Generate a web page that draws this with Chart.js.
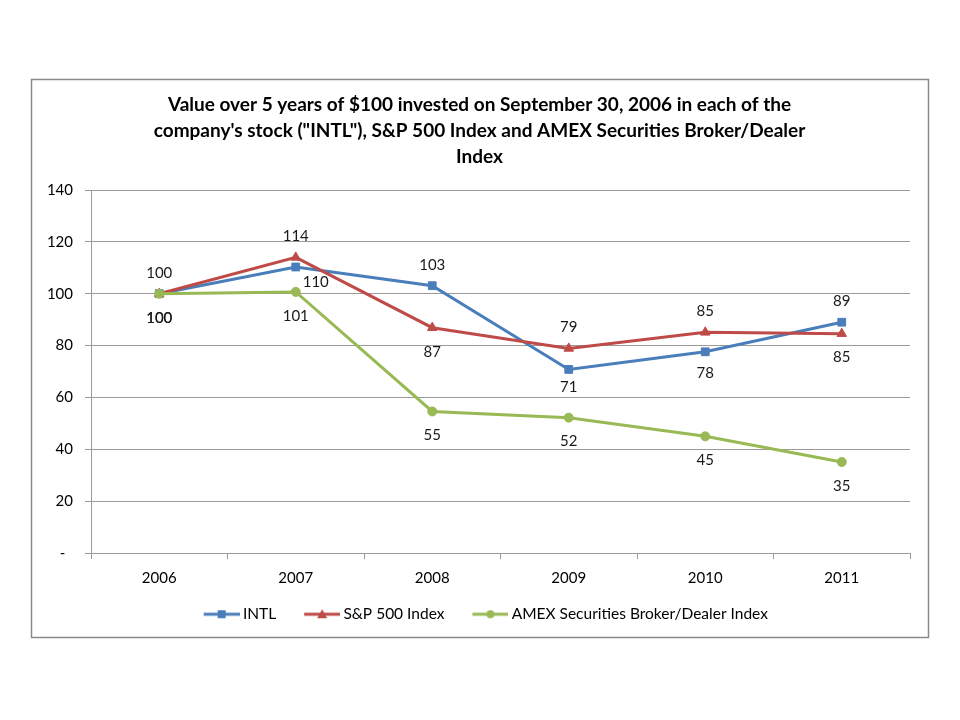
<!DOCTYPE html>
<html>
<head>
<meta charset="utf-8">
<script src="https://cdn.jsdelivr.net/npm/chart.js@4.4.0/dist/chart.umd.min.js"></script>
<style>
html,body{margin:0;padding:0;background:#fff;}
#wrap{position:absolute;left:0;top:0;width:960px;height:720px;}
</style>
</head>
<body>
<div id="wrap"><canvas id="c" width="960" height="720"></canvas></div>
<script>
// ---- data ----
const categories = ['2006', '2007', '2008', '2009', '2010', '2011'];
const intlValues = [100, 110.3, 103.1, 70.8, 77.6, 89.0];
const spValues = [100, 114.0, 86.9, 78.9, 85.1, 84.6];
const amexValues = [100, 100.7, 54.6, 52.2, 45.0, 35.1];
const yTicks = [0, 20, 40, 60, 80, 100, 120, 140];
const seriesNames = ['INTL', 'S&P 500 Index', 'AMEX Securities Broker/Dealer Index'];
const titleLines = [
  'Value over 5 years of $100 invested on September 30, 2006 in each of the',
  'company\'s stock ("INTL"), S&P 500 Index and AMEX Securities Broker/Dealer',
  'Index'
];

// ---- styling ----
const FONT = 'Lato, "Open Sans", sans-serif';
const colors = ['#4A7EBB', '#BE4B48', '#98B954'];
const pointStyles = ['rect', 'triangle', 'circle'];
const pointRadii = [5.5, 5.5, 4.5];
// label placement offsets (dx, dy) relative to each point
const A = {dx: 0, dy: -21}, B = {dx: 0, dy: 24};
const labelOffsets = [
  [B, {dx: 20, dy: 15}, A, {dx: 0, dy: 18}, {dx: 0, dy: 21}, A],
  [A, A, B, A, A, B],
  [B, B, B, B, B, B]
];

// legend icon: line with marker, drawn with empty space on its left
function legendIcon(i) {
  const c = document.createElement('canvas');
  c.width = 53; c.height = 14;
  const x = c.getContext('2d');
  const x0 = 17;
  x.strokeStyle = colors[i]; x.fillStyle = colors[i]; x.lineWidth = 3;
  x.beginPath(); x.moveTo(x0, 7); x.lineTo(x0 + 36, 7); x.stroke();
  x.beginPath();
  if (i === 0) { x.fillRect(x0 + 14, 3, 8, 8); }
  else if (i === 1) { x.moveTo(x0 + 18, 2); x.lineTo(x0 + 23, 11); x.lineTo(x0 + 13, 11); x.closePath(); x.fill(); }
  else { x.arc(x0 + 18, 7, 4, 0, Math.PI * 2); x.fill(); }
  return c;
}
const legendIcons = [0, 1, 2].map(legendIcon);

const frame = {
  id: 'frame',
  beforeDraw(chart) {
    const ctx = chart.ctx;
    ctx.save();
    ctx.fillStyle = '#fff';
    ctx.fillRect(0, 0, chart.width, chart.height);
    ctx.strokeStyle = '#8a8a8a';
    ctx.lineWidth = 1.5;
    ctx.strokeRect(31.5, 79.5, 897, 558);
    ctx.restore();
  }
};

const valueLabels = {
  id: 'valueLabels',
  afterDatasetsDraw(chart) {
    const ctx = chart.ctx;
    ctx.save();
    ctx.font = '15px ' + FONT;
    ctx.fillStyle = '#1a1a1a';
    ctx.textAlign = 'center';
    ctx.textBaseline = 'middle';
    chart.data.datasets.forEach((ds, di) => {
      const meta = chart.getDatasetMeta(di);
      meta.data.forEach((pt, i) => {
        const off = labelOffsets[di][i];
        ctx.fillText(String(Math.round(ds.data[i])), pt.x + off.dx, pt.y + off.dy);
      });
    });
    ctx.restore();
  }
};

const seriesData = [intlValues, spValues, amexValues];
const datasets = seriesData.map((vals, i) => ({
  label: seriesNames[i],
  data: vals,
  borderColor: colors[i],
  backgroundColor: colors[i],
  borderWidth: 3,
  pointStyle: pointStyles[i],
  pointRadius: pointRadii[i],
  pointBorderWidth: 1,
  pointBackgroundColor: colors[i],
  pointBorderColor: colors[i],
  tension: 0,
  order: 3 - i
}));

Chart.defaults.font.family = FONT;
new Chart(document.getElementById('c'), {
  type: 'line',
  data: { labels: categories, datasets },
  options: {
    responsive: false,
    animation: false,
    devicePixelRatio: 1,
    layout: { padding: { left: 28, right: 29, top: 92, bottom: 88 } },
    plugins: {
      tooltip: { enabled: false },
      title: {
        display: true,
        text: titleLines,
        color: '#000',
        font: { size: 19, weight: 'bold', lineHeight: 26 / 19 },
        padding: { top: 0, bottom: 20 }
      },
      legend: {
        position: 'bottom',
        labels: {
          usePointStyle: true,
          pointStyleWidth: 44,
          color: '#000',
          padding: 15.5,
          font: { size: 15.5 },
          generateLabels: () => seriesNames.map((n, i) => ({
            text: n, pointStyle: legendIcons[i], fillStyle: colors[i],
            strokeStyle: colors[i], lineWidth: 0, hidden: false, datasetIndex: i, fontColor: '#000'
          }))
        }
      }
    },
    scales: {
      x: {
        offset: true,
        afterFit(s) { s.height = 38; },
        grid: { display: true, drawOnChartArea: false, drawTicks: true, tickLength: 6, offset: true, color: '#9a9a9a' },
        border: { display: true, color: '#9a9a9a', width: 1 },
        ticks: { color: '#000', font: { size: 15 }, padding: 10 }
      },
      y: {
        min: 0, max: 140,
        afterFit(s) { s.width = 63; },
        afterBuildTicks(s) { s.ticks = yTicks.map(v => ({ value: v })); },
        grid: { color: '#9a9a9a', drawTicks: true, tickLength: 6 },
        border: { display: true, color: '#9a9a9a', width: 1 },
        ticks: { color: '#000', font: { size: 15 }, padding: 12,
          callback: v => (v === 0 ? '-  ' : String(v)) }
      },
      yRight: {
        position: 'right',
        display: true,
        afterFit(s) { s.width = 21; },
        grid: { display: false },
        border: { display: false },
        ticks: { display: false }
      }
    }
  },
  plugins: [frame, valueLabels]
});
</script>
</body>
</html>
